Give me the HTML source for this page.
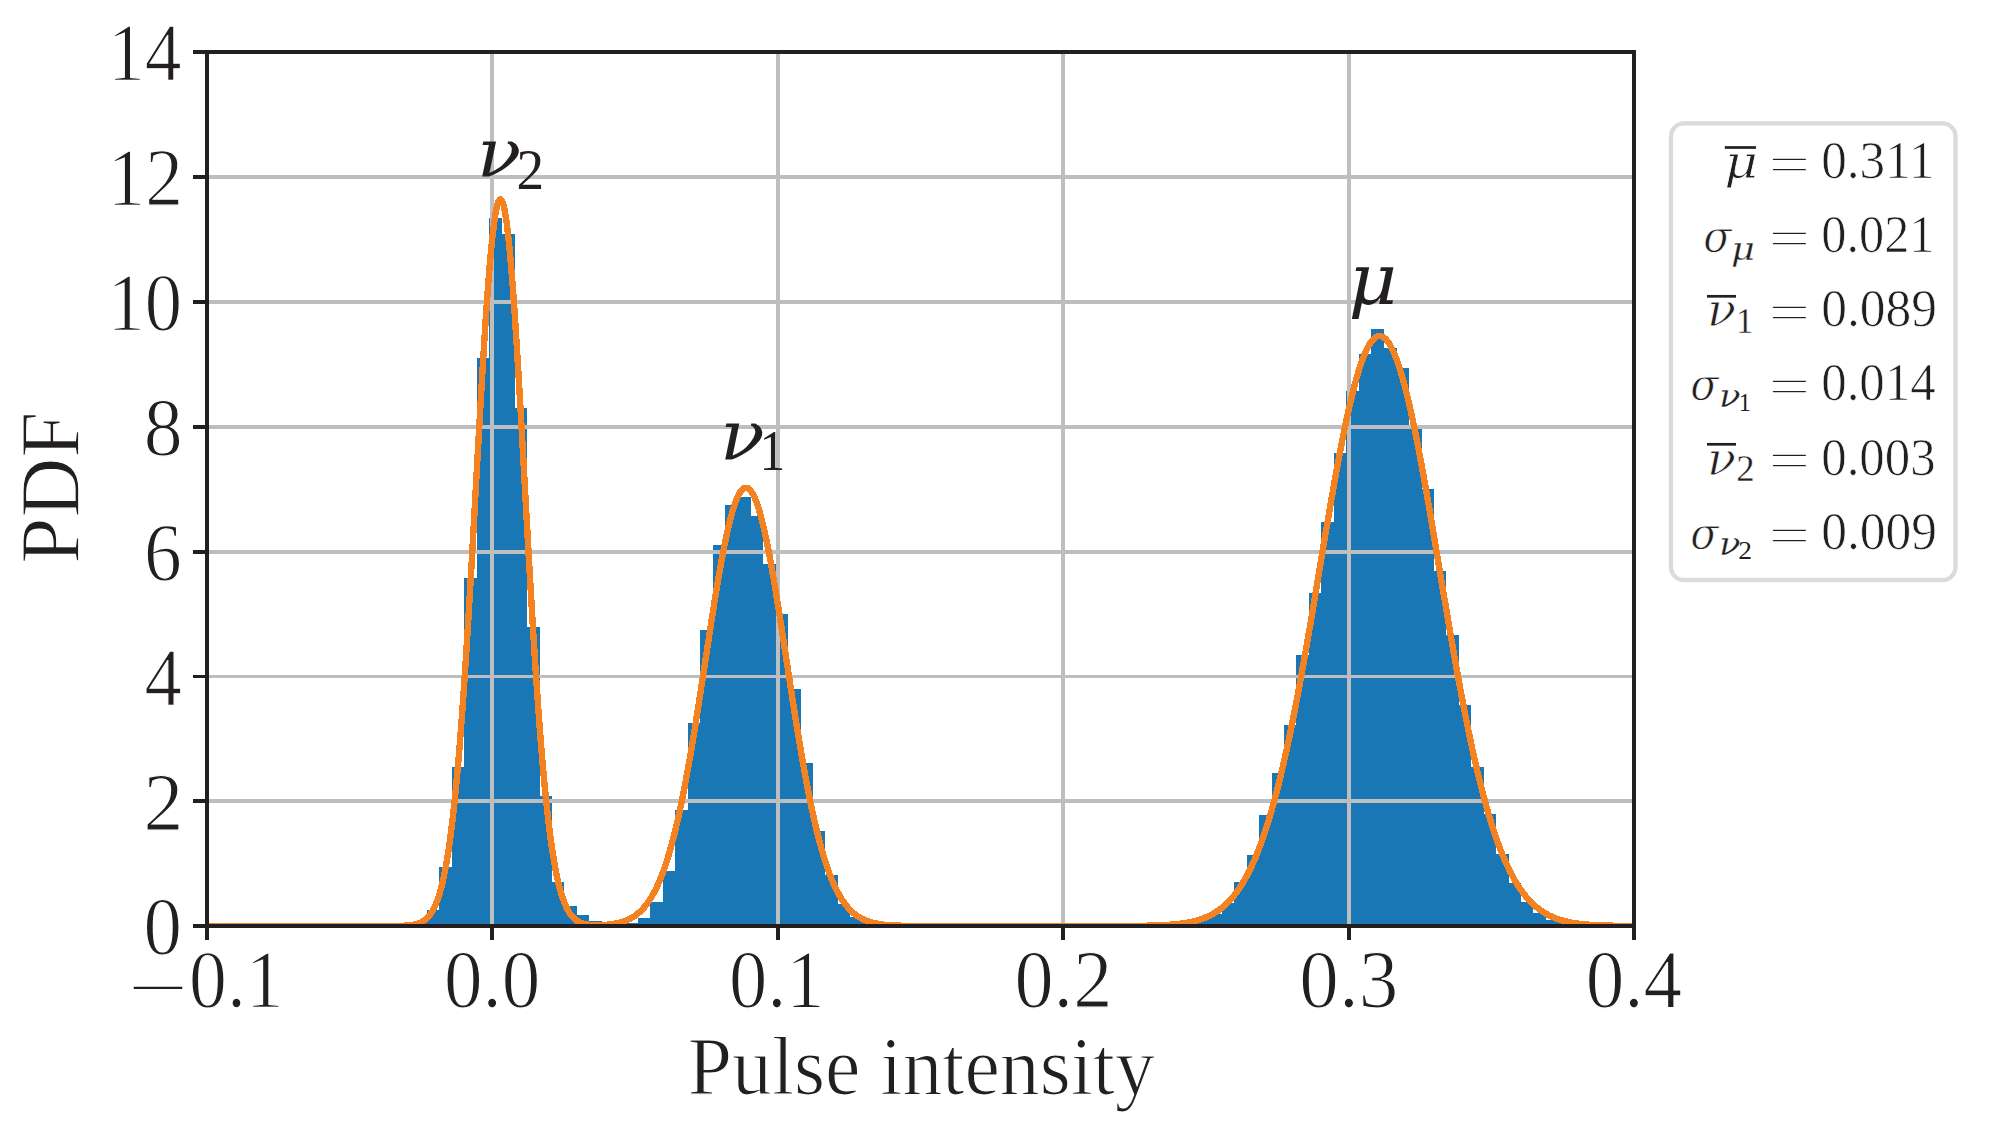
<!DOCTYPE html>
<html lang="en"><head><meta charset="utf-8"><title>Pulse intensity PDF</title>
<style>html,body{margin:0;padding:0;background:#fff}svg{display:block}text{font-family:"Liberation Serif",serif;fill:#231f20}.i{font-style:italic}.g{font-family:"DejaVu Serif",serif;font-style:italic}</style></head><body>
<svg width="1998" height="1131" viewBox="0 0 1998 1131">
<rect width="1998" height="1131" fill="#fff"/>
<defs><clipPath id="ax"><rect x="207.00" y="52.00" width="1427.00" height="874.00"/></clipPath></defs>
<g clip-path="url(#ax)">
<path d="M414 926V922H427V926ZM427 926V910H439V926ZM439 926V867H452V926ZM452 926V767H464V926ZM464 926V578H477V926ZM477 926V358H489V926ZM489 926V218H502V926ZM502 926V234H515V926ZM515 926V408H527V926ZM527 926V627H540V926ZM540 926V796H552V926ZM552 926V882H564V926ZM564 926V906H577V926ZM577 926V915H589V926ZM589 926V921H602V926ZM613 926V923H626V926ZM626 926V923H638V926ZM638 926V918H650V926ZM650 926V902H663V926ZM663 926V871H675V926ZM675 926V810H688V926ZM688 926V723H700V926ZM700 926V630H713V926ZM713 926V545H725V926ZM725 926V505H738V926ZM738 926V497H751V926ZM751 926V516H763V926ZM763 926V564H776V926ZM776 926V614H788V926ZM788 926V689H801V926ZM801 926V763H813V926ZM813 926V831H825V926ZM825 926V875H838V926ZM838 926V904H850V926ZM850 926V917H863V926ZM863 926V922H875V926ZM1184 926V922H1197V926ZM1197 926V919H1209V926ZM1209 926V914H1222V926ZM1222 926V903H1234V926ZM1234 926V882H1247V926ZM1247 926V855H1259V926ZM1259 926V815H1272V926ZM1272 926V773H1284V926ZM1284 926V725H1296V926ZM1296 926V655H1309V926ZM1309 926V593H1321V926ZM1321 926V522H1334V926ZM1334 926V453H1346V926ZM1346 926V391H1359V926ZM1359 926V354H1371V926ZM1371 926V329H1384V926ZM1384 926V348H1397V926ZM1397 926V368H1409V926ZM1409 926V429H1422V926ZM1422 926V489H1434V926ZM1434 926V571H1446V926ZM1446 926V635H1459V926ZM1459 926V705H1471V926ZM1471 926V767H1484V926ZM1484 926V814H1496V926ZM1496 926V854H1509V926ZM1509 926V883H1521V926ZM1521 926V902H1533V926ZM1533 926V913H1546V926ZM1546 926V920H1558V926ZM1558 926V921H1571V926Z" fill="#1977b5" shape-rendering="crispEdges"/>
<path d="M492 52.00 V926.00 M778 52.00 V926.00 M1063 52.00 V926.00 M1349 52.00 V926.00 M207.00 801 H1634.00 M207.00 552 H1634.00 M207.00 427 H1634.00 M207.00 302 H1634.00 M207.00 177 H1634.00" stroke="#bcbec0" stroke-width="4" fill="none" shape-rendering="crispEdges"/>
<path d="M207.00 676.5 H1634.00" stroke="#bcbec0" stroke-width="3" fill="none" shape-rendering="crispEdges"/>
<polyline points="207.00,926.00 208.02,926.00 209.04,926.00 210.06,926.00 211.08,926.00 212.10,926.00 213.12,926.00 214.14,926.00 215.15,926.00 216.17,926.00 217.19,926.00 218.21,926.00 219.23,926.00 220.25,926.00 221.27,926.00 222.29,926.00 223.31,926.00 224.33,926.00 225.35,926.00 226.37,926.00 227.39,926.00 228.41,926.00 229.42,926.00 230.44,926.00 231.46,926.00 232.48,926.00 233.50,926.00 234.52,926.00 235.54,926.00 236.56,926.00 237.58,926.00 238.60,926.00 239.62,926.00 240.64,926.00 241.66,926.00 242.67,926.00 243.69,926.00 244.71,926.00 245.73,926.00 246.75,926.00 247.77,926.00 248.79,926.00 249.81,926.00 250.83,926.00 251.85,926.00 252.87,926.00 253.89,926.00 254.91,926.00 255.93,926.00 256.94,926.00 257.96,926.00 258.98,926.00 260.00,926.00 261.02,926.00 262.04,926.00 263.06,926.00 264.08,926.00 265.10,926.00 266.12,926.00 267.14,926.00 268.16,926.00 269.18,926.00 270.20,926.00 271.21,926.00 272.23,926.00 273.25,926.00 274.27,926.00 275.29,926.00 276.31,926.00 277.33,926.00 278.35,926.00 279.37,926.00 280.39,926.00 281.41,926.00 282.43,926.00 283.45,926.00 284.47,926.00 285.49,926.00 286.50,926.00 287.52,926.00 288.54,926.00 289.56,926.00 290.58,926.00 291.60,926.00 292.62,926.00 293.64,926.00 294.66,926.00 295.68,926.00 296.70,926.00 297.72,926.00 298.74,926.00 299.75,926.00 300.77,926.00 301.79,926.00 302.81,926.00 303.83,926.00 304.85,926.00 305.87,926.00 306.89,926.00 307.91,926.00 308.93,926.00 309.95,926.00 310.97,926.00 311.99,926.00 313.01,926.00 314.03,926.00 315.04,926.00 316.06,926.00 317.08,926.00 318.10,926.00 319.12,926.00 320.14,926.00 321.16,926.00 322.18,926.00 323.20,926.00 324.22,926.00 325.24,926.00 326.26,926.00 327.28,926.00 328.30,926.00 329.31,926.00 330.33,926.00 331.35,926.00 332.37,926.00 333.39,926.00 334.41,926.00 335.43,926.00 336.45,926.00 337.47,926.00 338.49,926.00 339.51,926.00 340.53,926.00 341.55,926.00 342.56,926.00 343.58,926.00 344.60,926.00 345.62,926.00 346.64,926.00 347.66,926.00 348.68,926.00 349.70,926.00 350.72,926.00 351.74,926.00 352.76,926.00 353.78,926.00 354.80,926.00 355.82,926.00 356.84,926.00 357.85,926.00 358.87,926.00 359.89,926.00 360.91,926.00 361.93,926.00 362.95,926.00 363.97,926.00 364.99,926.00 366.01,926.00 367.03,926.00 368.05,926.00 369.07,926.00 370.09,926.00 371.11,926.00 372.12,926.00 373.14,926.00 374.16,926.00 375.18,926.00 376.20,926.00 377.22,926.00 378.24,926.00 379.26,926.00 380.28,926.00 381.30,926.00 382.32,925.99 383.34,925.99 384.36,925.99 385.38,925.99 386.39,925.99 387.41,925.98 388.43,925.98 389.45,925.98 390.47,925.97 391.49,925.97 392.51,925.96 393.53,925.95 394.55,925.94 395.57,925.93 396.59,925.91 397.61,925.90 398.63,925.88 399.64,925.86 400.66,925.83 401.68,925.80 402.70,925.76 403.72,925.72 404.74,925.67 405.76,925.61 406.78,925.54 407.80,925.46 408.82,925.36 409.84,925.26 410.86,925.13 411.88,924.99 412.90,924.83 413.91,924.64 414.93,924.42 415.95,924.18 416.97,923.89 417.99,923.57 419.01,923.21 420.03,922.79 421.05,922.32 422.07,921.79 423.09,921.19 424.11,920.51 425.13,919.76 426.15,918.90 427.17,917.95 428.19,916.88 429.20,915.69 430.22,914.36 431.24,912.89 432.26,911.26 433.28,909.45 434.30,907.45 435.32,905.24 436.34,902.82 437.36,900.15 438.38,897.23 439.40,894.04 440.42,890.55 441.44,886.75 442.46,882.62 443.47,878.14 444.49,873.29 445.51,868.05 446.53,862.40 447.55,856.32 448.57,849.79 449.59,842.79 450.61,835.31 451.63,827.33 452.65,818.83 453.67,809.81 454.69,800.24 455.71,790.12 456.73,779.45 457.74,768.21 458.76,756.41 459.78,744.05 460.80,731.12 461.82,717.63 462.84,703.61 463.86,689.05 464.88,673.98 465.90,658.42 466.92,642.39 467.94,625.93 468.96,609.06 469.98,591.83 471.00,574.28 472.01,556.45 473.03,538.39 474.05,520.16 475.07,501.81 476.09,483.41 477.11,465.02 478.13,446.69 479.15,428.51 480.17,410.54 481.19,392.85 482.21,375.51 483.23,358.60 484.25,342.19 485.26,326.35 486.28,311.16 487.30,296.68 488.32,282.98 489.34,270.13 490.36,258.19 491.38,247.22 492.40,237.27 493.42,228.39 494.44,220.63 495.46,214.03 496.48,208.62 497.50,204.43 498.52,201.47 499.53,199.78 500.55,199.35 501.57,200.18 502.59,202.28 503.61,205.63 504.63,210.22 505.65,216.02 506.67,222.99 507.69,231.12 508.71,240.34 509.73,250.62 510.75,261.91 511.77,274.15 512.79,287.28 513.81,301.23 514.82,315.95 515.84,331.35 516.86,347.38 517.88,363.96 518.90,381.01 519.92,398.47 520.94,416.26 521.96,434.31 522.98,452.54 524.00,470.90 525.02,489.30 526.04,507.69 527.06,526.01 528.08,544.19 529.09,562.18 530.11,579.93 531.13,597.38 532.15,614.50 533.17,631.24 534.19,647.57 535.21,663.45 536.23,678.86 537.25,693.76 538.27,708.15 539.29,722.01 540.31,735.31 541.33,748.06 542.35,760.25 543.36,771.87 544.38,782.93 545.40,793.42 546.42,803.36 547.44,812.75 548.46,821.60 549.48,829.93 550.50,837.75 551.52,845.08 552.54,851.92 553.56,858.31 554.58,864.25 555.60,869.76 556.62,874.88 557.63,879.61 558.65,883.97 559.67,887.99 560.69,891.69 561.71,895.08 562.73,898.18 563.75,901.01 564.77,903.60 565.79,905.95 566.81,908.08 567.83,910.02 568.85,911.77 569.87,913.34 570.88,914.76 571.90,916.04 572.92,917.19 573.94,918.21 574.96,919.13 575.98,919.94 577.00,920.67 578.02,921.31 579.04,921.88 580.06,922.38 581.08,922.82 582.10,923.21 583.12,923.54 584.14,923.84 585.15,924.09 586.17,924.31 587.19,924.50 588.21,924.66 589.23,924.79 590.25,924.90 591.27,924.99 592.29,925.07 593.31,925.12 594.33,925.16 595.35,925.19 596.37,925.20 597.39,925.20 598.41,925.19 599.42,925.17 600.44,925.14 601.46,925.10 602.48,925.05 603.50,925.00 604.52,924.93 605.54,924.85 606.56,924.76 607.58,924.67 608.60,924.56 609.62,924.44 610.64,924.31 611.66,924.17 612.68,924.02 613.69,923.86 614.71,923.68 615.73,923.48 616.75,923.28 617.77,923.05 618.79,922.81 619.81,922.55 620.83,922.27 621.85,921.97 622.87,921.65 623.89,921.31 624.91,920.94 625.93,920.55 626.95,920.13 627.96,919.68 628.98,919.21 630.00,918.70 631.02,918.15 632.04,917.58 633.06,916.96 634.08,916.31 635.10,915.62 636.12,914.88 637.14,914.10 638.16,913.27 639.18,912.40 640.20,911.47 641.22,910.49 642.24,909.45 643.25,908.36 644.27,907.20 645.29,905.98 646.31,904.70 647.33,903.35 648.35,901.92 649.37,900.43 650.39,898.86 651.41,897.21 652.43,895.47 653.45,893.66 654.47,891.76 655.49,889.77 656.50,887.69 657.52,885.52 658.54,883.24 659.56,880.87 660.58,878.40 661.60,875.83 662.62,873.15 663.64,870.36 664.66,867.46 665.68,864.45 666.70,861.33 667.72,858.09 668.74,854.73 669.76,851.25 670.78,847.66 671.79,843.94 672.81,840.10 673.83,836.14 674.85,832.05 675.87,827.85 676.89,823.51 677.91,819.06 678.93,814.48 679.95,809.78 680.97,804.95 681.99,800.01 683.01,794.95 684.03,789.77 685.05,784.47 686.06,779.06 687.08,773.55 688.10,767.92 689.12,762.19 690.14,756.36 691.16,750.44 692.18,744.42 693.20,738.31 694.22,732.12 695.24,725.86 696.26,719.52 697.28,713.12 698.30,706.66 699.31,700.14 700.33,693.58 701.35,686.97 702.37,680.34 703.39,673.68 704.41,667.01 705.43,660.32 706.45,653.64 707.47,646.96 708.49,640.30 709.51,633.67 710.53,627.07 711.55,620.52 712.57,614.02 713.59,607.59 714.60,601.22 715.62,594.94 716.64,588.75 717.66,582.67 718.68,576.69 719.70,570.84 720.72,565.11 721.74,559.52 722.76,554.09 723.78,548.81 724.80,543.70 725.82,538.76 726.84,534.01 727.86,529.45 728.87,525.09 729.89,520.94 730.91,517.01 731.93,513.30 732.95,509.82 733.97,506.57 734.99,503.57 736.01,500.81 737.03,498.31 738.05,496.06 739.07,494.08 740.09,492.36 741.11,490.91 742.12,489.73 743.14,488.82 744.16,488.19 745.18,487.84 746.20,487.76 747.22,487.96 748.24,488.43 749.26,489.19 750.28,490.21 751.30,491.51 752.32,493.08 753.34,494.92 754.36,497.02 755.38,499.38 756.39,501.99 757.41,504.86 758.43,507.97 759.45,511.32 760.47,514.90 761.49,518.71 762.51,522.74 763.53,526.98 764.55,531.43 765.57,536.08 766.59,540.91 767.61,545.93 768.63,551.11 769.65,556.46 770.67,561.96 771.68,567.61 772.70,573.40 773.72,579.31 774.74,585.33 775.76,591.47 776.78,597.70 777.80,604.01 778.82,610.41 779.84,616.88 780.86,623.40 781.88,629.97 782.90,636.59 783.92,643.23 784.94,649.90 785.95,656.58 786.97,663.26 787.99,669.95 789.01,676.61 790.03,683.26 791.05,689.88 792.07,696.47 793.09,703.01 794.11,709.51 795.13,715.94 796.15,722.32 797.17,728.63 798.19,734.86 799.20,741.01 800.22,747.08 801.24,753.06 802.26,758.94 803.28,764.72 804.30,770.41 805.32,775.99 806.34,781.46 807.36,786.82 808.38,792.06 809.40,797.19 810.42,802.20 811.44,807.09 812.46,811.86 813.48,816.51 814.49,821.03 815.51,825.43 816.53,829.71 817.55,833.87 818.57,837.90 819.59,841.81 820.61,845.59 821.63,849.25 822.65,852.80 823.67,856.22 824.69,859.53 825.71,862.72 826.73,865.79 827.75,868.75 828.76,871.60 829.78,874.34 830.80,876.97 831.82,879.50 832.84,881.93 833.86,884.26 834.88,886.48 835.90,888.62 836.92,890.66 837.94,892.61 838.96,894.47 839.98,896.25 841.00,897.94 842.01,899.56 843.03,901.09 844.05,902.56 845.07,903.95 846.09,905.27 847.11,906.53 848.13,907.72 849.15,908.84 850.17,909.91 851.19,910.93 852.21,911.88 853.23,912.79 854.25,913.64 855.27,914.45 856.28,915.21 857.30,915.93 858.32,916.60 859.34,917.24 860.36,917.84 861.38,918.40 862.40,918.93 863.42,919.42 864.44,919.89 865.46,920.32 866.48,920.73 867.50,921.11 868.52,921.47 869.54,921.80 870.56,922.11 871.57,922.40 872.59,922.67 873.61,922.92 874.63,923.16 875.65,923.38 876.67,923.58 877.69,923.77 878.71,923.95 879.73,924.11 880.75,924.26 881.77,924.40 882.79,924.53 883.81,924.65 884.82,924.76 885.84,924.86 886.86,924.96 887.88,925.05 888.90,925.13 889.92,925.20 890.94,925.27 891.96,925.33 892.98,925.39 894.00,925.44 895.02,925.49 896.04,925.54 897.06,925.58 898.08,925.62 899.10,925.65 900.11,925.68 901.13,925.71 902.15,925.74 903.17,925.76 904.19,925.79 905.21,925.81 906.23,925.82 907.25,925.84 908.27,925.86 909.29,925.87 910.31,925.88 911.33,925.89 912.35,925.90 913.37,925.91 914.38,925.92 915.40,925.93 916.42,925.94 917.44,925.94 918.46,925.95 919.48,925.95 920.50,925.96 921.52,925.96 922.54,925.97 923.56,925.97 924.58,925.97 925.60,925.98 926.62,925.98 927.63,925.98 928.65,925.98 929.67,925.98 930.69,925.99 931.71,925.99 932.73,925.99 933.75,925.99 934.77,925.99 935.79,925.99 936.81,925.99 937.83,925.99 938.85,925.99 939.87,926.00 940.89,926.00 941.90,926.00 942.92,926.00 943.94,926.00 944.96,926.00 945.98,926.00 947.00,926.00 948.02,926.00 949.04,926.00 950.06,926.00 951.08,926.00 952.10,926.00 953.12,926.00 954.14,926.00 955.16,926.00 956.18,926.00 957.19,926.00 958.21,926.00 959.23,926.00 960.25,926.00 961.27,926.00 962.29,926.00 963.31,926.00 964.33,926.00 965.35,926.00 966.37,926.00 967.39,926.00 968.41,926.00 969.43,926.00 970.45,926.00 971.46,926.00 972.48,926.00 973.50,926.00 974.52,926.00 975.54,926.00 976.56,926.00 977.58,926.00 978.60,926.00 979.62,926.00 980.64,926.00 981.66,926.00 982.68,926.00 983.70,926.00 984.72,926.00 985.73,926.00 986.75,926.00 987.77,926.00 988.79,926.00 989.81,926.00 990.83,926.00 991.85,926.00 992.87,926.00 993.89,926.00 994.91,926.00 995.93,926.00 996.95,926.00 997.97,926.00 998.99,926.00 1000.00,926.00 1001.02,926.00 1002.04,926.00 1003.06,926.00 1004.08,926.00 1005.10,926.00 1006.12,926.00 1007.14,926.00 1008.16,926.00 1009.18,926.00 1010.20,926.00 1011.22,926.00 1012.24,926.00 1013.25,926.00 1014.27,926.00 1015.29,926.00 1016.31,926.00 1017.33,926.00 1018.35,926.00 1019.37,926.00 1020.39,926.00 1021.41,926.00 1022.43,926.00 1023.45,926.00 1024.47,926.00 1025.49,926.00 1026.51,926.00 1027.53,926.00 1028.54,926.00 1029.56,926.00 1030.58,926.00 1031.60,926.00 1032.62,926.00 1033.64,926.00 1034.66,926.00 1035.68,926.00 1036.70,926.00 1037.72,926.00 1038.74,926.00 1039.76,926.00 1040.78,926.00 1041.80,926.00 1042.81,926.00 1043.83,926.00 1044.85,926.00 1045.87,926.00 1046.89,926.00 1047.91,926.00 1048.93,926.00 1049.95,926.00 1050.97,926.00 1051.99,926.00 1053.01,926.00 1054.03,926.00 1055.05,926.00 1056.07,926.00 1057.08,926.00 1058.10,926.00 1059.12,926.00 1060.14,926.00 1061.16,926.00 1062.18,926.00 1063.20,926.00 1064.22,926.00 1065.24,926.00 1066.26,926.00 1067.28,926.00 1068.30,926.00 1069.32,926.00 1070.34,926.00 1071.35,926.00 1072.37,926.00 1073.39,926.00 1074.41,926.00 1075.43,926.00 1076.45,926.00 1077.47,926.00 1078.49,926.00 1079.51,926.00 1080.53,926.00 1081.55,926.00 1082.57,926.00 1083.59,926.00 1084.61,926.00 1085.62,926.00 1086.64,926.00 1087.66,926.00 1088.68,926.00 1089.70,926.00 1090.72,925.99 1091.74,925.99 1092.76,925.99 1093.78,925.99 1094.80,925.99 1095.82,925.99 1096.84,925.99 1097.86,925.99 1098.88,925.99 1099.89,925.99 1100.91,925.99 1101.93,925.99 1102.95,925.99 1103.97,925.99 1104.99,925.98 1106.01,925.98 1107.03,925.98 1108.05,925.98 1109.07,925.98 1110.09,925.98 1111.11,925.98 1112.13,925.97 1113.14,925.97 1114.16,925.97 1115.18,925.97 1116.20,925.96 1117.22,925.96 1118.24,925.96 1119.26,925.95 1120.28,925.95 1121.30,925.95 1122.32,925.94 1123.34,925.94 1124.36,925.93 1125.38,925.93 1126.40,925.92 1127.41,925.92 1128.43,925.91 1129.45,925.91 1130.47,925.90 1131.49,925.89 1132.51,925.88 1133.53,925.88 1134.55,925.87 1135.57,925.86 1136.59,925.85 1137.61,925.84 1138.63,925.82 1139.65,925.81 1140.67,925.80 1141.68,925.78 1142.70,925.77 1143.72,925.75 1144.74,925.74 1145.76,925.72 1146.78,925.70 1147.80,925.68 1148.82,925.66 1149.84,925.63 1150.86,925.61 1151.88,925.58 1152.90,925.55 1153.92,925.52 1154.94,925.49 1155.95,925.46 1156.97,925.42 1157.99,925.39 1159.01,925.35 1160.03,925.30 1161.05,925.26 1162.07,925.21 1163.09,925.16 1164.11,925.11 1165.13,925.05 1166.15,924.99 1167.17,924.93 1168.19,924.86 1169.21,924.79 1170.22,924.71 1171.24,924.64 1172.26,924.55 1173.28,924.46 1174.30,924.37 1175.32,924.27 1176.34,924.17 1177.36,924.06 1178.38,923.95 1179.40,923.83 1180.42,923.70 1181.44,923.57 1182.46,923.42 1183.48,923.28 1184.50,923.12 1185.51,922.96 1186.53,922.78 1187.55,922.60 1188.57,922.41 1189.59,922.21 1190.61,922.00 1191.63,921.78 1192.65,921.55 1193.67,921.30 1194.69,921.05 1195.71,920.78 1196.73,920.50 1197.75,920.21 1198.76,919.90 1199.78,919.58 1200.80,919.24 1201.82,918.89 1202.84,918.52 1203.86,918.14 1204.88,917.73 1205.90,917.31 1206.92,916.87 1207.94,916.41 1208.96,915.93 1209.98,915.43 1211.00,914.91 1212.02,914.37 1213.03,913.80 1214.05,913.21 1215.07,912.59 1216.09,911.95 1217.11,911.28 1218.13,910.59 1219.15,909.86 1220.17,909.11 1221.19,908.33 1222.21,907.52 1223.23,906.67 1224.25,905.79 1225.27,904.88 1226.29,903.93 1227.30,902.95 1228.32,901.93 1229.34,900.88 1230.36,899.78 1231.38,898.64 1232.40,897.47 1233.42,896.25 1234.44,894.99 1235.46,893.68 1236.48,892.33 1237.50,890.94 1238.52,889.49 1239.54,888.00 1240.56,886.46 1241.57,884.86 1242.59,883.22 1243.61,881.52 1244.63,879.77 1245.65,877.96 1246.67,876.10 1247.69,874.18 1248.71,872.21 1249.73,870.17 1250.75,868.07 1251.77,865.91 1252.79,863.69 1253.81,861.41 1254.83,859.06 1255.84,856.65 1256.86,854.17 1257.88,851.62 1258.90,849.01 1259.92,846.32 1260.94,843.57 1261.96,840.75 1262.98,837.85 1264.00,834.89 1265.02,831.85 1266.04,828.74 1267.06,825.55 1268.08,822.29 1269.10,818.96 1270.11,815.55 1271.13,812.06 1272.15,808.50 1273.17,804.87 1274.19,801.15 1275.21,797.36 1276.23,793.50 1277.25,789.56 1278.27,785.54 1279.29,781.44 1280.31,777.27 1281.33,773.03 1282.35,768.70 1283.37,764.31 1284.38,759.83 1285.40,755.29 1286.42,750.67 1287.44,745.98 1288.46,741.21 1289.48,736.38 1290.50,731.47 1291.52,726.50 1292.54,721.45 1293.56,716.35 1294.58,711.17 1295.60,705.94 1296.62,700.64 1297.64,695.28 1298.65,689.86 1299.67,684.38 1300.69,678.85 1301.71,673.27 1302.73,667.63 1303.75,661.95 1304.77,656.22 1305.79,650.44 1306.81,644.63 1307.83,638.77 1308.85,632.88 1309.87,626.95 1310.89,620.99 1311.91,615.01 1312.92,609.00 1313.94,602.96 1314.96,596.91 1315.98,590.84 1317.00,584.76 1318.02,578.67 1319.04,572.57 1320.06,566.47 1321.08,560.37 1322.10,554.28 1323.12,548.19 1324.14,542.12 1325.16,536.06 1326.18,530.02 1327.19,524.00 1328.21,518.02 1329.23,512.06 1330.25,506.14 1331.27,500.25 1332.29,494.41 1333.31,488.62 1334.33,482.88 1335.35,477.19 1336.37,471.56 1337.39,466.00 1338.41,460.50 1339.43,455.08 1340.45,449.72 1341.46,444.45 1342.48,439.26 1343.50,434.16 1344.52,429.15 1345.54,424.23 1346.56,419.42 1347.58,414.70 1348.60,410.09 1349.62,405.59 1350.64,401.21 1351.66,396.94 1352.68,392.79 1353.70,388.76 1354.72,384.86 1355.73,381.10 1356.75,377.46 1357.77,373.96 1358.79,370.60 1359.81,367.38 1360.83,364.31 1361.85,361.38 1362.87,358.61 1363.89,355.98 1364.91,353.51 1365.93,351.20 1366.95,349.04 1367.97,347.05 1368.99,345.21 1370.00,343.54 1371.02,342.04 1372.04,340.70 1373.06,339.53 1374.08,338.53 1375.10,337.69 1376.12,337.03 1377.14,336.54 1378.16,336.21 1379.18,336.06 1380.20,336.08 1381.22,336.27 1382.24,336.64 1383.26,337.17 1384.27,337.88 1385.29,338.75 1386.31,339.79 1387.33,341.01 1388.35,342.39 1389.37,343.93 1390.39,345.64 1391.41,347.51 1392.43,349.55 1393.45,351.74 1394.47,354.09 1395.49,356.60 1396.51,359.26 1397.53,362.07 1398.54,365.03 1399.56,368.14 1400.58,371.40 1401.60,374.79 1402.62,378.32 1403.64,381.99 1404.66,385.79 1405.68,389.72 1406.70,393.77 1407.72,397.95 1408.74,402.25 1409.76,406.66 1410.78,411.19 1411.80,415.82 1412.82,420.56 1413.83,425.41 1414.85,430.34 1415.87,435.38 1416.89,440.50 1417.91,445.71 1418.93,451.00 1419.95,456.37 1420.97,461.81 1421.99,467.33 1423.01,472.91 1424.03,478.55 1425.05,484.25 1426.07,490.01 1427.09,495.81 1428.10,501.66 1429.12,507.55 1430.14,513.49 1431.16,519.45 1432.18,525.45 1433.20,531.47 1434.22,537.51 1435.24,543.57 1436.26,549.65 1437.28,555.74 1438.30,561.83 1439.32,567.93 1440.34,574.03 1441.36,580.13 1442.37,586.22 1443.39,592.30 1444.41,598.36 1445.43,604.41 1446.45,610.44 1447.47,616.45 1448.49,622.43 1449.51,628.38 1450.53,634.29 1451.55,640.18 1452.57,646.03 1453.59,651.83 1454.61,657.60 1455.62,663.32 1456.64,668.99 1457.66,674.61 1458.68,680.18 1459.70,685.70 1460.72,691.16 1461.74,696.57 1462.76,701.91 1463.78,707.20 1464.80,712.42 1465.82,717.58 1466.84,722.67 1467.86,727.70 1468.88,732.65 1469.89,737.54 1470.91,742.36 1471.93,747.11 1472.95,751.78 1473.97,756.39 1474.99,760.91 1476.01,765.37 1477.03,769.75 1478.05,774.05 1479.07,778.28 1480.09,782.43 1481.11,786.51 1482.13,790.51 1483.15,794.43 1484.16,798.28 1485.18,802.05 1486.20,805.75 1487.22,809.36 1488.24,812.91 1489.26,816.37 1490.28,819.76 1491.30,823.08 1492.32,826.32 1493.34,829.49 1494.36,832.58 1495.38,835.60 1496.40,838.55 1497.42,841.43 1498.43,844.24 1499.45,846.97 1500.47,849.64 1501.49,852.24 1502.51,854.77 1503.53,857.23 1504.55,859.63 1505.57,861.96 1506.59,864.23 1507.61,866.44 1508.63,868.58 1509.65,870.66 1510.67,872.69 1511.69,874.65 1512.71,876.55 1513.72,878.40 1514.74,880.20 1515.76,881.93 1516.78,883.62 1517.80,885.25 1518.82,886.83 1519.84,888.36 1520.86,889.84 1521.88,891.27 1522.90,892.66 1523.92,894.00 1524.94,895.29 1525.96,896.55 1526.98,897.75 1527.99,898.92 1529.01,900.05 1530.03,901.13 1531.05,902.18 1532.07,903.19 1533.09,904.16 1534.11,905.10 1535.13,906.01 1536.15,906.88 1537.17,907.71 1538.19,908.52 1539.21,909.30 1540.23,910.04 1541.25,910.76 1542.26,911.45 1543.28,912.11 1544.30,912.74 1545.32,913.35 1546.34,913.94 1547.36,914.50 1548.38,915.04 1549.40,915.56 1550.42,916.05 1551.44,916.53 1552.46,916.98 1553.48,917.42 1554.50,917.83 1555.51,918.23 1556.53,918.61 1557.55,918.98 1558.57,919.32 1559.59,919.66 1560.61,919.98 1561.63,920.28 1562.65,920.57 1563.67,920.85 1564.69,921.11 1565.71,921.36 1566.73,921.60 1567.75,921.83 1568.77,922.05 1569.78,922.26 1570.80,922.46 1571.82,922.65 1572.84,922.82 1573.86,923.00 1574.88,923.16 1575.90,923.31 1576.92,923.46 1577.94,923.60 1578.96,923.73 1579.98,923.86 1581.00,923.98 1582.02,924.09 1583.04,924.20 1584.05,924.30 1585.07,924.39 1586.09,924.49 1587.11,924.57 1588.13,924.66 1589.15,924.73 1590.17,924.81 1591.19,924.88 1592.21,924.94 1593.23,925.00 1594.25,925.06 1595.27,925.12 1596.29,925.17 1597.31,925.22 1598.32,925.27 1599.34,925.31 1600.36,925.35 1601.38,925.39 1602.40,925.43 1603.42,925.47 1604.44,925.50 1605.46,925.53 1606.48,925.56 1607.50,925.59 1608.52,925.61 1609.54,925.64 1610.56,925.66 1611.58,925.68 1612.59,925.70 1613.61,925.72 1614.63,925.74 1615.65,925.76 1616.67,925.77 1617.69,925.79 1618.71,925.80 1619.73,925.81 1620.75,925.83 1621.77,925.84 1622.79,925.85 1623.81,925.86 1624.83,925.87 1625.85,925.88 1626.86,925.89 1627.88,925.89 1628.90,925.90 1629.92,925.91 1630.94,925.91 1631.96,925.92 1632.98,925.93 1634.00,925.93" fill="none" stroke="#f58220" stroke-width="6.4" stroke-linejoin="round" shape-rendering="crispEdges"/>
</g>
<path d="M207.00 926.00 V940.00 M492.00 926.00 V940.00 M778.00 926.00 V940.00 M1063.00 926.00 V940.00 M1349.00 926.00 V940.00 M1634.00 926.00 V940.00 M207.00 926.00 H193.00 M207.00 801.00 H193.00 M207.00 552.00 H193.00 M207.00 427.00 H193.00 M207.00 302.00 H193.00 M207.00 177.00 H193.00 M207.00 52.00 H193.00" stroke="#231f20" stroke-width="4" shape-rendering="crispEdges" fill="none"/>
<path d="M207.00 676.5 H193.00" stroke="#231f20" stroke-width="3" fill="none" shape-rendering="crispEdges"/>
<rect x="207.00" y="52.00" width="1427.00" height="874.00" fill="none" stroke="#231f20" stroke-width="4" shape-rendering="crispEdges"/>
<text transform="translate(107.94 80.40) scale(0.9072 1.0224)" font-size="81.2" stroke="#fff" stroke-width="1.2" vector-effect="non-scaling-stroke">14</text>
<text transform="translate(107.48 205.26) scale(0.9308 1.0224)" font-size="81.2" stroke="#fff" stroke-width="1.2" vector-effect="non-scaling-stroke">12</text>
<text transform="translate(107.56 330.11) scale(0.9191 1.0222)" font-size="81.2" stroke="#fff" stroke-width="1.2" vector-effect="non-scaling-stroke">10</text>
<text transform="translate(143.79 454.97) scale(0.9588 1.0222)" font-size="81.2" stroke="#fff" stroke-width="1.2" vector-effect="non-scaling-stroke">8</text>
<text transform="translate(143.98 579.83) scale(0.9308 1.0224)" font-size="81.2" stroke="#fff" stroke-width="1.2" vector-effect="non-scaling-stroke">6</text>
<text transform="translate(144.40 704.69) scale(0.9217 1.0224)" font-size="81.2" stroke="#fff" stroke-width="1.2" vector-effect="non-scaling-stroke">4</text>
<text transform="translate(143.41 829.54) scale(0.9821 1.0224)" font-size="81.2" stroke="#fff" stroke-width="1.2" vector-effect="non-scaling-stroke">2</text>
<text transform="translate(143.52 954.40) scale(0.9471 1.0222)" font-size="81.2" stroke="#fff" stroke-width="1.2" vector-effect="non-scaling-stroke">0</text>
<text transform="translate(129.08 1002.53) scale(1.2845 0.5665)" font-size="81.2">−</text>
<text transform="translate(189.07 1007.20) scale(0.9327 1.0222)" font-size="81.2" stroke="#fff" stroke-width="1.2" vector-effect="non-scaling-stroke">0.1</text>
<text transform="translate(444.02 1007.20) scale(0.9494 1.0222)" font-size="81.2" stroke="#fff" stroke-width="1.2" vector-effect="non-scaling-stroke">0.0</text>
<text transform="translate(728.94 1007.20) scale(0.9424 1.0222)" font-size="81.2" stroke="#fff" stroke-width="1.2" vector-effect="non-scaling-stroke">0.1</text>
<text transform="translate(1014.47 1007.20) scale(0.9639 1.0222)" font-size="81.2" stroke="#fff" stroke-width="1.2" vector-effect="non-scaling-stroke">0.2</text>
<text transform="translate(1299.33 1007.20) scale(0.9747 1.0222)" font-size="81.2" stroke="#fff" stroke-width="1.2" vector-effect="non-scaling-stroke">0.3</text>
<text transform="translate(1585.71 1007.20) scale(0.9502 1.0222)" font-size="81.2" stroke="#fff" stroke-width="1.2" vector-effect="non-scaling-stroke">0.4</text>
<text transform="translate(687.81 1093.60) scale(0.9836 1.0213)" font-size="81" stroke="#fff" stroke-width="1.2" vector-effect="non-scaling-stroke">Pulse intensity</text>
<text transform="translate(78.65 563.69) rotate(-90) scale(0.9832 1)" font-size="84.3" stroke="#fff" stroke-width="1.2" vector-effect="non-scaling-stroke">PDF</text>
<text class="g" transform="translate(476.91 177.20) scale(0.8652 0.8104)" font-size="84">ν</text>
<text transform="translate(516.61 188.70) scale(0.9866 1.0065)" font-size="56">2</text>
<text class="g" transform="translate(719.96 458.50) scale(0.8746 0.8127)" font-size="84">ν</text>
<text transform="translate(759.42 470.20) scale(0.9205 1.0065)" font-size="56">1</text>
<text class="g" transform="translate(1348.43 304.00) scale(0.8923 0.8447)" font-size="84">μ</text>
<rect x="1671" y="123.4" width="284.5" height="456.6" rx="13" ry="13" fill="#fff" stroke="#dadbdd" stroke-width="4.3"/>
<g>
<rect x="1724.8" y="146.15" width="31.2" height="2.7" fill="#231f20"/>
<text class="g" transform="translate(1724.26 178.20) scale(1.0175 0.9240)" font-size="51" stroke="#fff" stroke-width="0.8" vector-effect="non-scaling-stroke">μ</text>
<text transform="translate(1768.36 181.89) scale(1.4228 1.0190)" font-size="52.6" stroke="#fff" stroke-width="1.6" vector-effect="non-scaling-stroke">=</text>
<text transform="translate(1821.20 177.95) scale(0.9726 1.0200)" font-size="52.6" stroke="#fff" stroke-width="0.7" vector-effect="non-scaling-stroke">0.311</text>
</g>
<g>
<text class="g" transform="translate(1703.24 251.78) scale(0.8111 0.8759)" font-size="51" stroke="#fff" stroke-width="0.8" vector-effect="non-scaling-stroke">σ</text>
<text class="g" transform="translate(1731.10 260.31) scale(1.0210 0.8980)" font-size="36" stroke="#fff" stroke-width="0.3" vector-effect="non-scaling-stroke">μ</text>
<text transform="translate(1768.36 256.04) scale(1.4228 1.0190)" font-size="52.6" stroke="#fff" stroke-width="1.6" vector-effect="non-scaling-stroke">=</text>
<text transform="translate(1821.24 252.10) scale(0.9568 1.0200)" font-size="52.6" stroke="#fff" stroke-width="0.7" vector-effect="non-scaling-stroke">0.021</text>
</g>
<g>
<rect x="1707.0" y="294.95" width="29.0" height="2.7" fill="#231f20"/>
<text class="g" transform="translate(1707.07 325.80) scale(0.9319 0.9201)" font-size="51" stroke="#fff" stroke-width="0.8" vector-effect="non-scaling-stroke">ν</text>
<text transform="translate(1736.08 333.15) scale(0.9703 0.9891)" font-size="36" stroke="#fff" stroke-width="0.3" vector-effect="non-scaling-stroke">1</text>
<text transform="translate(1768.36 330.19) scale(1.4228 1.0190)" font-size="52.6" stroke="#fff" stroke-width="1.6" vector-effect="non-scaling-stroke">=</text>
<text transform="translate(1821.19 326.25) scale(0.9786 1.0200)" font-size="52.6" stroke="#fff" stroke-width="0.7" vector-effect="non-scaling-stroke">0.089</text>
</g>
<g>
<text class="g" transform="translate(1690.14 400.48) scale(0.8111 0.8723)" font-size="51" stroke="#fff" stroke-width="0.8" vector-effect="non-scaling-stroke">σ</text>
<text class="g" transform="translate(1718.97 407.10) scale(0.9846 0.8814)" font-size="36" stroke="#fff" stroke-width="0.3" vector-effect="non-scaling-stroke">ν</text>
<text transform="translate(1738.64 410.75) scale(0.9317 0.9848)" font-size="26">1</text>
<text transform="translate(1768.36 404.34) scale(1.4228 1.0190)" font-size="52.6" stroke="#fff" stroke-width="1.6" vector-effect="non-scaling-stroke">=</text>
<text transform="translate(1821.21 400.40) scale(0.9675 1.0200)" font-size="52.6" stroke="#fff" stroke-width="0.7" vector-effect="non-scaling-stroke">0.014</text>
</g>
<g>
<rect x="1707.0" y="442.95" width="29.0" height="2.7" fill="#231f20"/>
<text class="g" transform="translate(1707.07 474.70) scale(0.9319 0.9163)" font-size="51" stroke="#fff" stroke-width="0.8" vector-effect="non-scaling-stroke">ν</text>
<text transform="translate(1736.20 481.05) scale(1.0208 1.0354)" font-size="36" stroke="#fff" stroke-width="0.3" vector-effect="non-scaling-stroke">2</text>
<text transform="translate(1768.36 478.49) scale(1.4228 1.0190)" font-size="52.6" stroke="#fff" stroke-width="1.6" vector-effect="non-scaling-stroke">=</text>
<text transform="translate(1821.22 474.55) scale(0.9663 1.0200)" font-size="52.6" stroke="#fff" stroke-width="0.7" vector-effect="non-scaling-stroke">0.003</text>
</g>
<g>
<text class="g" transform="translate(1690.14 548.78) scale(0.8111 0.8723)" font-size="51" stroke="#fff" stroke-width="0.8" vector-effect="non-scaling-stroke">σ</text>
<text class="g" transform="translate(1718.97 555.40) scale(0.9846 0.8814)" font-size="36" stroke="#fff" stroke-width="0.3" vector-effect="non-scaling-stroke">ν</text>
<text transform="translate(1738.36 559.05) scale(1.0577 0.9848)" font-size="26">2</text>
<text transform="translate(1768.36 552.64) scale(1.4228 1.0190)" font-size="52.6" stroke="#fff" stroke-width="1.6" vector-effect="non-scaling-stroke">=</text>
<text transform="translate(1821.19 548.70) scale(0.9786 1.0200)" font-size="52.6" stroke="#fff" stroke-width="0.7" vector-effect="non-scaling-stroke">0.009</text>
</g>
</svg></body></html>
